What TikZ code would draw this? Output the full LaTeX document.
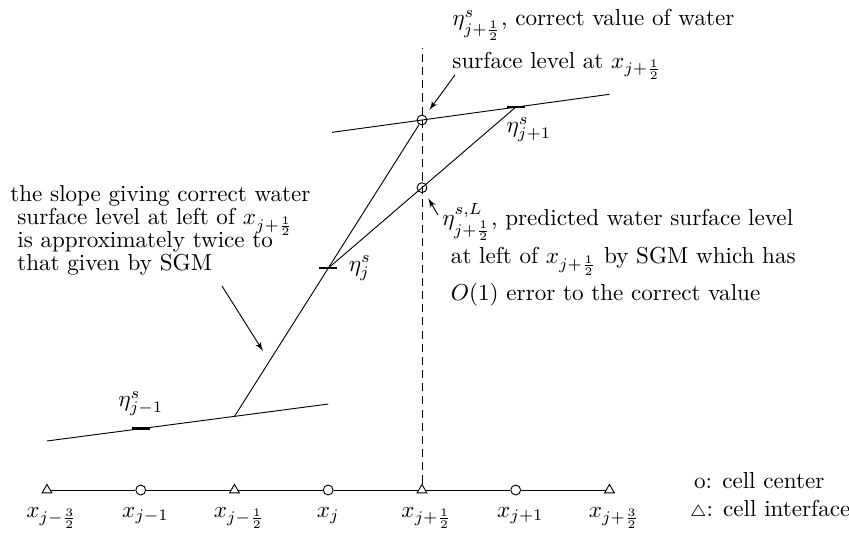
\documentclass[tikz,border=0pt]{standalone}
\usepackage{amsmath}
\usetikzlibrary{arrows,positioning,shapes.geometric}

\tikzset{
  cc/.style={circle,draw,inner sep=0pt,minimum size=0.15cm},
  ci/.style={regular polygon,regular polygon sides=3,draw,inner sep=0pt,minimum size=0.17cm},
  lev/.style={rectangle,fill,inner sep=0pt,minimum width=0.28cm,minimum height=1.1pt},
  xlab/.style={anchor=base,inner sep=0pt},
  note/.style={align=left,anchor=north west,inner sep=0pt},
  guide/.style={dash pattern=on 3.5pt off 2.2pt},
}

\begin{document}
\begin{tikzpicture}[x=1.426cm,y=1.426cm,>=latex']
  \useasboundingbox (-0.501,-0.448) rectangle (8.555,5.227);
% cell centres and interfaces
  \node[ci] (t0) at (0,0) {};
  \node[cc] (c1) at (1,0) {};
  \node[ci] (t2) at (2,0) {};
  \node[cc] (c3) at (3,0) {};
  \node[ci] (t4) at (4,0) {};
  \node[cc] (c5) at (5,0) {};
  \node[ci] (t6) at (6,0) {};
  \draw (t0) -- (c1) -- (t2) -- (c3) -- (t4) -- (c5) -- (t6);
  \node[xlab] (l0) at (0.05,-0.288) {$x_{j-\frac{3}{2}}$};
  \node[xlab] (l1) at (1.05,-0.288) {$x_{j-1}$};
  \node[xlab] (l2) at (2.05,-0.288) {$x_{j-\frac{1}{2}}$};
  \node[xlab] (l3) at (3,-0.288) {$x_j$};
  \node[xlab] (l4) at (4.05,-0.288) {$x_{j+\frac{1}{2}}$};
  \node[xlab] (l5) at (5.05,-0.288) {$x_{j+1}$};
  \node[xlab] (l6) at (6.05,-0.288) {$x_{j+\frac{3}{2}}$};
  \node[note] (key) at (6.855,0.192) {\hspace*{1.7pt}o: cell center\\$\scriptstyle\triangle$: cell interface};

% water surface levels
  \node[lev] (em) at (1,0.654) {};
  \node[lev] (e0) at (3,2.366) {};
  \node[lev] (ep) at (5,4.084) {};
  \node[cc] (cR) at (4,3.947) {};
  \node[cc] (cL) at (4,3.225) {};
  \node[above=4.5pt of em,inner sep=0pt] (lem) {$\eta^s_{j-1}$};
  \node[right=4.5pt of e0,inner sep=0pt] (le0) {$\eta^s_j$};
  \node[below=3.5pt of ep.south west,anchor=north west,inner sep=0pt] (lep) {$\eta^s_{j+1}$};

  \coordinate (a0) at (0,0.523);
  \coordinate (a1) at (3,0.917);
  \coordinate (a2) at (2,0.785);
  \coordinate (b0) at (3.04,3.815);
  \coordinate (b1) at (6,4.221);
  \coordinate (top) at (4,4.715);
  \draw (a0) -- (a1);
  \draw (b0) -- (b1);
  \draw (a2) -- (cR);
  \draw (e0.center) -- (ep.center);
  \draw[guide] (t4) -- (top);

% notes
  \node[note] (tR) at (4.32,5.13) {$\eta^s_{j+\frac{1}{2}}$, correct value of water\\[4pt]surface level at $x_{j+\frac{1}{2}}$};
  \node[note] (tL) at (4.213,3.061) {$\eta^{s,L}_{j+\frac{1}{2}}$, predicted water surface level\\[2pt]\hspace*{3.7pt}at left of $x_{j+\frac{1}{2}}$ by SGM which has\\[2.5pt]\hspace*{3.7pt}$O(1)$ error to the correct value};
  \node[note] (tS) at (-0.395,3.253) {the slope giving correct water\\[-2pt]\hspace*{3pt}surface level at left of $x_{j+\frac{1}{2}}$\\[-2pt]\hspace*{3pt}is approximately twice to\\[-2pt]\hspace*{3pt}that given by SGM};

  \coordinate (pR) at (4.352,4.427);
  \coordinate (pL) at (4.171,2.933);
  \coordinate (pS) at (1.867,2.176);
  \coordinate (qS) at (2.304,1.483);
  \draw[->,shorten >=3pt] (pR) -- (cR);
  \draw[->,shorten >=3pt] (pL) -- (cL);
  \draw[->] (pS) -- (qS);
\end{tikzpicture}
\end{document}
